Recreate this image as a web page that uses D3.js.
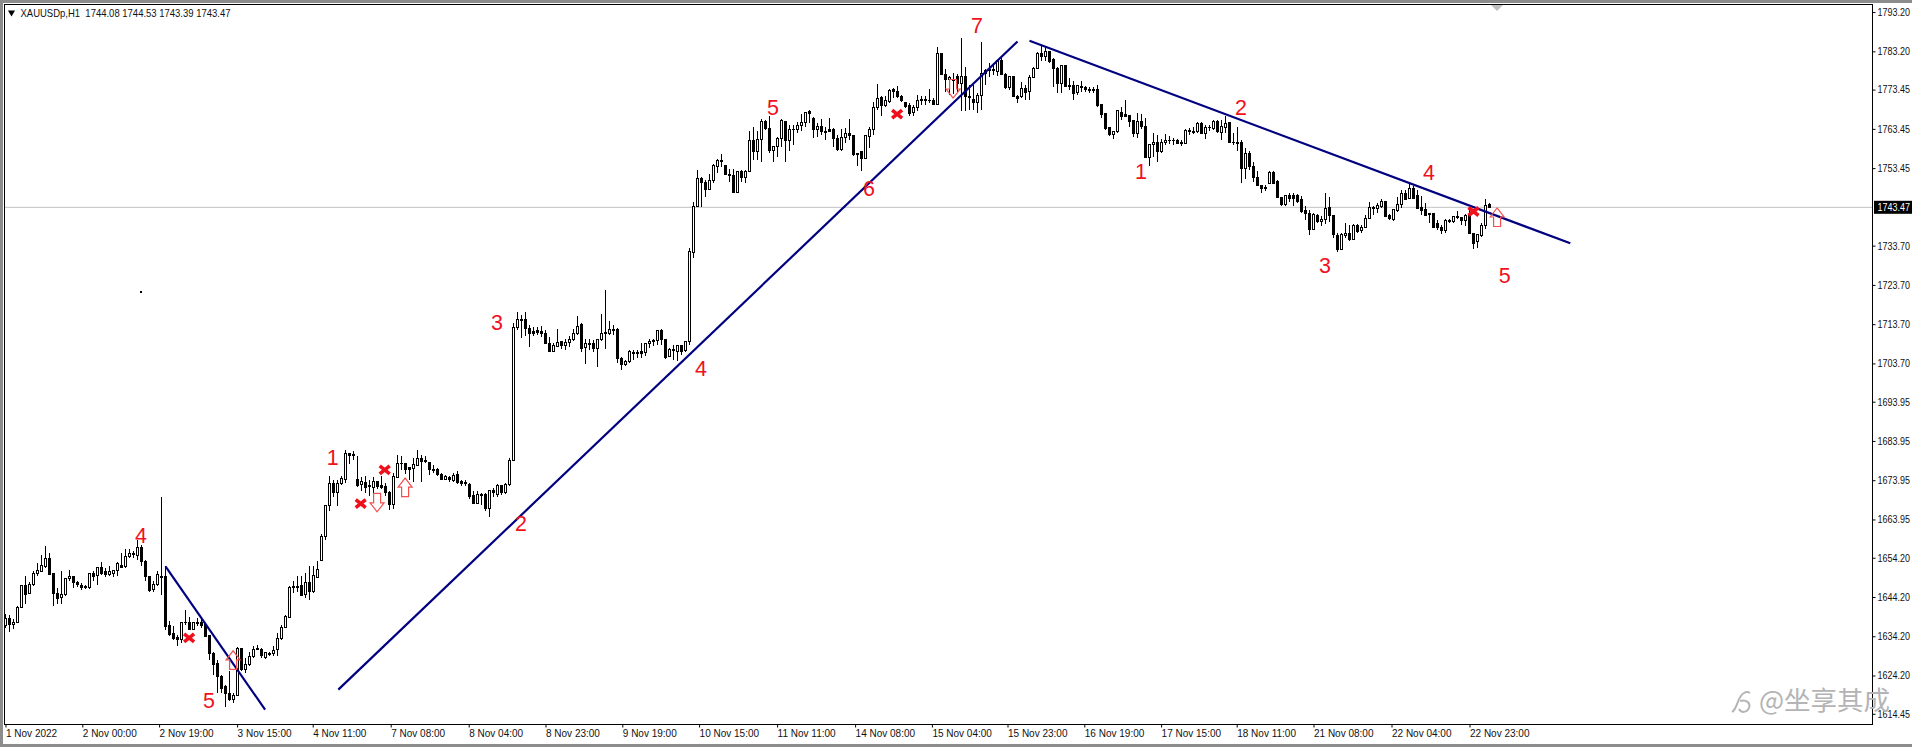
<!DOCTYPE html>
<html><head><meta charset="utf-8">
<script src="https://cdnjs.cloudflare.com/ajax/libs/d3/7.8.5/d3.min.js"></script>
<style>
html,body{margin:0;padding:0;background:#fff;overflow:hidden}
text{font-family:"Liberation Sans",Arial,sans-serif}
</style></head><body><svg id="c" width="1912" height="747"></svg>
<script>
const opens=[1636.9,1638.6,1637.1,1637.7,1641.6,1647.1,1645.2,1647.3,1650.1,1650.7,
1652.0,1653.9,1650.1,1645.2,1644.1,1644.8,1648.9,1649.5,1647.9,1647.2,
1646.6,1646.6,1650.3,1649.6,1651.8,1650.6,1650.0,1650.1,1651.0,1652.2,
1652.0,1654.4,1654.9,1654.7,1656.7,1653.3,1649.3,1646.1,1647.3,1649.2,
1649.5,1636.9,1635.0,1633.8,1633.3,1637.8,1637.7,1636.0,1637.4,1637.7,
1637.1,1634.3,1629.9,1627.2,1624.0,1621.3,1619.7,1618.2,1619.1,1631.0,
1625.7,1627.1,1629.1,1631.0,1630.8,1628.8,1629.9,1629.7,1630.8,1633.7,
1636.5,1639.0,1646.6,1646.7,1647.1,1644.8,1647.8,1645.6,1649.2,1653.5,
1659.6,1667.4,1673.0,1670.8,1673.0,1674.2,1680.7,1680.3,1674.1,1672.8,
1673.4,1672.4,1672.2,1673.5,1672.5,1672.4,1670.7,1667.7,1674.7,1678.3,
1678.1,1677.1,1677.0,1677.8,1679.6,1678.9,1678.5,1676.8,1676.6,1675.3,
1674.2,1674.6,1673.9,1675.3,1673.6,1673.1,1672.8,1670.1,1668.1,1670.0,
1670.2,1666.8,1671.3,1670.2,1672.5,1670.7,1672.8,1679.0,1712.9,1715.0,
1714.8,1712.7,1711.8,1712.0,1711.9,1711.4,1708.9,1706.8,1708.0,1709.2,
1708.3,1709.0,1709.9,1711.2,1713.5,1707.8,1708.7,1708.7,1707.6,1709.7,
1711.4,1711.2,1712.3,1712.4,1705.0,1703.4,1704.2,1706.5,1706.3,1706.7,
1706.5,1708.7,1709.4,1709.5,1712.1,1709.7,1705.5,1706.9,1706.7,1708.2,
1707.0,1709.3,1731.9,1743.7,1750.9,1749.8,1748.1,1750.3,1753.8,1755.5,
1754.0,1751.9,1751.6,1747.3,1752.6,1751.1,1752.6,1760.6,1757.8,1760.8,
1765.2,1763.6,1757.9,1758.9,1761.1,1765.4,1760.6,1763.2,1763.2,1764.4,
1765.1,1767.8,1766.1,1763.2,1764.0,1762.9,1763.2,1763.2,1761.1,1758.1,
1761.3,1762.2,1761.8,1757.2,1757.6,1755.9,1761.5,1763.4,1769.0,1771.5,
1769.3,1770.4,1773.4,1772.9,1771.8,1770.1,1769.3,1767.6,1769.0,1770.7,
1771.0,1770.8,1770.8,1769.7,1782.7,1777.4,1775.9,1776.1,1776.8,1774.9,
1776.8,1771.8,1771.0,1770.1,1772.0,1777.6,1778.2,1778.3,1778.0,1780.8,
1777.4,1774.0,1776.8,1771.8,1771.7,1773.8,1773.0,1776.6,1778.8,1782.7,
1781.9,1783.1,1781.0,1778.9,1774.9,1779.5,1774.5,1774.6,1772.7,1774.2,
1774.1,1773.5,1773.6,1773.4,1769.6,1767.4,1763.9,1762.0,1762.8,1767.6,
1767.0,1766.8,1765.6,1762.2,1765.3,1764.0,1756.2,1759.4,1760.0,1757.7,
1760.0,1760.5,1760.6,1760.6,1760.0,1759.8,1762.7,1762.9,1762.7,1764.7,
1762.3,1763.7,1763.6,1765.4,1762.6,1763.9,1765.1,1760.1,1760.1,1760.0,
1753.3,1757.2,1753.8,1751.1,1748.9,1748.2,1749.6,1752.3,1750.1,1745.9,
1744.3,1746.6,1746.6,1746.4,1745.4,1742.6,1741.8,1737.9,1741.5,1739.8,
1740.3,1743.3,1741.3,1736.3,1732.8,1736.2,1736.9,1735.2,1738.9,1737.6,
1738.4,1740.7,1743.2,1743.2,1743.7,1745.0,1741.5,1740.4,1742.6,1744.3,
1747.1,1745.7,1748.3,1746.4,1743.5,1742.8,1741.8,1741.8,1739.4,1738.4,
1737.6,1739.8,1739.8,1741.0,1740.9,1740.0,1741.5,1736.9,1734.8,1736.2,
1738.8,1744.08];
const closes=[1638.6,1637.1,1637.7,1641.6,1647.1,1644.8,1647.3,1650.3,1651.0,1652.2,
1653.9,1649.9,1645.2,1643.9,1644.9,1649.0,1649.5,1647.9,1647.3,1646.7,
1646.8,1650.1,1649.3,1651.8,1650.1,1650.0,1650.6,1651.0,1652.7,1651.7,
1654.4,1655.4,1655.2,1656.7,1653.3,1649.3,1645.9,1647.3,1649.9,1649.5,
1636.7,1634.6,1633.7,1633.3,1637.7,1637.6,1636.0,1637.6,1637.7,1636.9,
1634.2,1629.8,1627.0,1624.0,1621.0,1619.7,1618.0,1619.1,1631.2,1625.7,
1627.1,1629.1,1630.9,1630.8,1629.2,1630.1,1629.6,1630.6,1633.7,1636.5,
1639.3,1646.7,1646.9,1646.9,1644.5,1647.8,1645.6,1649.6,1651.3,1659.5,
1667.4,1673.0,1670.8,1673.0,1674.3,1680.7,1680.3,1680.6,1672.6,1673.5,
1672.2,1672.5,1673.5,1672.4,1672.2,1670.7,1667.7,1674.9,1678.3,1678.1,
1676.6,1676.8,1677.9,1679.6,1678.6,1678.6,1676.8,1676.4,1675.3,1674.1,
1674.9,1674.1,1675.2,1673.4,1673.2,1673.4,1669.8,1668.1,1670.2,1670.2,
1666.8,1671.3,1670.8,1672.5,1670.7,1672.8,1679.0,1712.9,1715.0,1714.7,
1712.7,1711.4,1711.3,1711.6,1711.3,1708.9,1706.7,1708.2,1709.1,1708.3,
1709.1,1709.9,1711.4,1713.1,1707.6,1708.7,1708.4,1707.4,1709.7,1711.4,
1711.6,1712.3,1712.0,1705.0,1703.4,1704.3,1706.7,1706.2,1706.5,1706.3,
1708.7,1709.3,1709.6,1712.1,1709.7,1705.3,1707.2,1707.2,1708.2,1706.7,
1709.2,1732.1,1743.7,1750.9,1749.8,1748.1,1750.2,1754.0,1755.5,1755.2,
1751.9,1751.6,1747.2,1752.6,1751.1,1752.7,1760.6,1757.7,1760.8,1765.2,
1763.6,1757.9,1758.9,1761.1,1765.5,1760.6,1763.4,1763.4,1764.4,1765.1,
1767.6,1767.4,1763.2,1764.0,1762.8,1762.6,1762.8,1761.0,1758.1,1761.3,
1762.2,1761.8,1756.9,1756.9,1755.9,1761.7,1763.4,1769.0,1771.2,1769.3,
1770.7,1773.2,1772.9,1771.7,1770.8,1769.1,1767.4,1769.0,1770.8,1771.0,
1770.7,1770.6,1769.7,1782.7,1777.4,1775.9,1776.6,1775.7,1775.1,1776.9,
1771.7,1771.5,1770.1,1772.0,1777.6,1778.3,1778.5,1778.5,1780.8,1777.4,
1774.1,1776.8,1771.7,1771.3,1773.8,1772.7,1776.6,1778.9,1782.7,1781.9,
1783.1,1780.6,1778.9,1775.1,1779.5,1774.2,1774.2,1772.5,1774.5,1773.9,
1773.5,1773.1,1773.2,1769.3,1767.0,1763.6,1761.9,1762.8,1768.1,1766.6,
1766.6,1765.3,1762.2,1765.3,1764.0,1756.2,1759.4,1760.1,1757.7,1760.0,
1760.6,1760.6,1760.4,1759.8,1759.8,1763.0,1763.0,1762.6,1764.7,1762.3,
1763.9,1763.9,1765.4,1762.7,1764.0,1764.9,1760.0,1759.9,1759.8,1753.3,
1757.2,1753.8,1751.1,1748.9,1748.2,1748.4,1752.3,1749.6,1746.0,1744.1,
1746.5,1745.7,1745.8,1744.9,1742.4,1742.0,1737.9,1741.6,1739.8,1740.3,
1743.2,1741.3,1736.5,1732.6,1736.5,1736.9,1735.2,1738.9,1737.4,1738.4,
1740.7,1743.5,1743.4,1744.0,1744.9,1741.1,1740.6,1742.8,1744.3,1746.9,
1745.5,1748.3,1745.8,1743.2,1742.7,1741.5,1741.6,1738.4,1738.2,1737.6,
1740.0,1740.0,1741.1,1740.8,1740.0,1741.5,1736.9,1734.2,1736.5,1738.8,
1744.0,1743.47];
const highs=[1639.9,1639.7,1638.6,1642.0,1647.3,1649.6,1647.9,1650.7,1652.9,1655.0,
1657.1,1655.4,1650.1,1646.5,1650.7,1649.0,1651.2,1649.6,1648.2,1647.8,
1647.3,1650.3,1650.7,1651.8,1653.1,1651.6,1652.2,1651.2,1653.0,1655.4,
1656.4,1656.4,1655.8,1658.8,1657.5,1653.5,1649.5,1648.2,1650.7,1669.6,
1652.0,1638.0,1636.7,1634.6,1637.7,1641.0,1639.1,1637.7,1638.8,1638.8,
1637.6,1634.6,1630.1,1628.1,1624.4,1621.9,1625.3,1619.7,1631.5,1631.2,
1628.7,1630.3,1631.6,1632.0,1631.2,1630.3,1630.3,1631.6,1635.0,1637.1,
1639.7,1646.9,1648.2,1649.5,1649.5,1650.3,1652.2,1652.0,1653.3,1660.3,
1667.7,1675.1,1673.9,1674.1,1674.9,1681.7,1681.0,1681.3,1680.2,1674.7,
1674.9,1674.1,1674.7,1673.6,1674.9,1673.2,1671.1,1675.9,1680.4,1680.0,
1678.3,1677.3,1679.6,1681.7,1680.4,1680.0,1678.7,1677.9,1677.0,1675.9,
1675.3,1674.9,1675.8,1676.4,1674.1,1673.9,1673.2,1671.1,1671.3,1670.7,
1670.8,1671.5,1671.9,1673.0,1672.8,1673.2,1679.6,1714.0,1716.8,1716.1,
1716.8,1713.5,1713.0,1713.0,1713.3,1712.3,1710.4,1708.9,1712.4,1709.5,
1709.9,1710.6,1712.4,1715.8,1714.0,1709.9,1709.9,1709.7,1709.9,1716.3,
1722.3,1714.4,1713.5,1712.7,1705.3,1704.6,1707.0,1707.0,1707.0,1708.9,
1708.9,1709.9,1709.9,1712.3,1712.4,1709.9,1707.6,1708.4,1708.2,1708.4,
1709.5,1733.1,1744.9,1753.0,1751.3,1750.3,1752.0,1754.5,1755.7,1757.1,
1754.3,1753.2,1753.2,1752.8,1753.0,1753.0,1763.0,1764.0,1763.0,1765.9,
1765.7,1766.6,1759.1,1761.5,1765.9,1765.5,1764.5,1764.5,1765.3,1767.3,
1767.8,1768.3,1766.4,1764.9,1765.9,1764.0,1766.2,1763.6,1761.9,1763.4,
1763.6,1765.9,1761.9,1757.4,1757.7,1761.9,1763.9,1770.4,1774.9,1771.7,
1771.8,1773.5,1773.8,1774.4,1772.1,1770.4,1770.0,1769.6,1772.1,1771.8,
1771.8,1773.5,1771.2,1784.2,1782.7,1778.6,1776.8,1777.8,1777.4,1786.5,
1779.1,1774.6,1774.6,1772.5,1785.7,1778.6,1780.2,1780.3,1781.0,1781.4,
1777.6,1776.9,1776.9,1772.1,1775.5,1774.6,1777.2,1779.1,1783.1,1784.8,
1784.4,1783.4,1781.4,1779.3,1779.7,1779.7,1776.3,1775.7,1774.6,1775.7,
1774.4,1774.2,1774.2,1774.6,1769.8,1767.4,1764.0,1763.0,1768.3,1769.0,
1770.8,1767.0,1765.7,1767.4,1767.3,1766.2,1759.6,1762.5,1761.9,1760.8,
1762.2,1761.7,1761.1,1760.8,1760.5,1763.4,1763.6,1763.9,1765.3,1765.1,
1764.5,1764.5,1765.7,1765.7,1765.7,1766.6,1765.3,1762.3,1764.0,1760.6,
1758.5,1757.9,1755.1,1752.6,1749.2,1749.2,1752.6,1752.6,1750.3,1746.2,
1746.6,1747.2,1747.1,1746.9,1746.4,1743.8,1742.8,1742.0,1741.8,1741.3,
1747.1,1746.2,1741.5,1736.9,1736.9,1739.4,1739.0,1739.2,1739.2,1739.0,
1741.5,1744.7,1743.7,1744.5,1745.5,1745.2,1741.8,1743.0,1746.0,1747.9,
1747.9,1749.6,1748.8,1747.9,1746.4,1744.5,1742.0,1741.8,1740.3,1739.0,
1740.4,1740.4,1741.3,1742.6,1741.0,1741.8,1743.2,1737.0,1736.7,1739.4,
1745.5,1744.53];
const lows=[1636.3,1635.4,1636.0,1637.6,1641.4,1642.5,1645.0,1646.9,1649.6,1650.5,
1651.6,1649.7,1641.8,1642.5,1642.5,1644.5,1648.2,1646.5,1646.7,1646.1,
1646.2,1646.2,1648.2,1647.3,1649.9,1649.3,1649.6,1649.3,1649.5,1651.6,
1651.6,1654.1,1654.1,1653.7,1652.2,1648.2,1645.6,1645.4,1646.9,1644.6,
1635.9,1634.3,1633.3,1631.6,1632.5,1637.1,1635.9,1635.7,1636.7,1636.3,
1634.0,1628.2,1624.4,1619.7,1619.7,1616.3,1617.6,1617.2,1618.9,1625.3,
1624.8,1626.7,1628.7,1630.6,1628.7,1628.4,1629.2,1629.1,1629.1,1633.3,
1636.3,1638.8,1645.2,1645.6,1644.4,1643.9,1643.5,1645.2,1649.0,1653.3,
1658.8,1666.0,1669.8,1667.4,1672.8,1673.2,1678.1,1679.2,1672.2,1671.1,
1670.7,1670.0,1670.7,1671.7,1671.7,1670.0,1666.4,1666.6,1674.5,1676.6,
1675.6,1674.1,1673.4,1677.6,1673.6,1678.3,1675.3,1675.8,1674.9,1673.9,
1673.9,1673.6,1673.6,1673.0,1672.4,1672.5,1669.1,1668.0,1668.0,1667.7,
1666.0,1664.6,1669.8,1669.8,1670.2,1670.5,1672.5,1678.9,1712.3,1710.1,
1710.6,1708.0,1710.6,1711.0,1710.4,1708.7,1706.7,1706.7,1707.8,1707.3,
1707.2,1708.0,1709.3,1711.0,1706.7,1703.6,1707.0,1706.5,1702.9,1709.5,
1707.3,1711.0,1711.0,1703.9,1701.9,1703.1,1703.8,1704.6,1705.0,1705.0,
1705.5,1707.6,1708.2,1708.4,1708.4,1704.8,1705.3,1704.6,1704.2,1705.9,
1706.5,1708.4,1730.6,1743.5,1743.5,1746.0,1747.9,1749.6,1752.1,1753.7,
1751.7,1750.0,1747.1,1747.2,1750.0,1749.6,1752.6,1755.4,1755.4,1755.1,
1763.2,1757.2,1754.9,1756.4,1758.9,1755.1,1757.9,1759.4,1762.3,1762.8,
1764.0,1765.0,1761.1,1761.5,1761.9,1760.5,1762.8,1758.9,1757.7,1757.9,
1759.9,1760.6,1756.6,1754.0,1752.8,1755.7,1758.5,1761.9,1768.3,1766.6,
1769.1,1770.0,1771.2,1771.2,1770.4,1768.7,1766.7,1766.6,1767.9,1769.6,
1769.6,1770.1,1769.6,1769.6,1777.2,1772.9,1772.1,1772.4,1772.9,1768.1,
1767.9,1768.3,1768.3,1767.6,1768.3,1774.6,1776.6,1777.2,1776.9,1777.2,
1773.5,1773.4,1771.5,1770.0,1771.2,1770.8,1770.8,1776.3,1778.6,1780.8,
1780.8,1780.3,1774.2,1772.7,1772.7,1774.2,1773.4,1770.7,1772.1,1772.9,
1772.9,1772.7,1772.7,1769.0,1766.2,1763.2,1761.7,1760.8,1762.5,1765.7,
1766.4,1763.9,1761.5,1761.1,1763.4,1756.2,1754.0,1756.4,1755.1,1757.2,
1759.4,1759.6,1759.4,1759.6,1759.1,1759.6,1761.9,1762.2,1762.5,1762.2,
1760.8,1762.8,1763.2,1762.3,1760.6,1762.3,1759.8,1759.4,1757.9,1749.6,
1750.6,1753.0,1749.8,1748.8,1747.2,1747.5,1749.4,1749.4,1745.8,1743.7,
1743.8,1744.9,1743.8,1744.5,1742.1,1740.3,1736.5,1737.6,1739.4,1738.7,
1739.3,1739.8,1735.6,1732.2,1732.6,1735.6,1735.0,1735.2,1737.0,1737.0,
1738.2,1740.4,1741.5,1742.0,1743.2,1741.0,1740.3,1740.1,1742.4,1743.2,
1745.4,1745.5,1745.5,1743.0,1741.5,1741.3,1739.4,1738.2,1737.7,1736.7,
1737.0,1739.4,1739.4,1740.4,1739.0,1738.7,1736.9,1732.8,1733.0,1735.9,
1737.9,1743.39];

const priceTicks=[1793.20,1783.20,1773.45,1763.45,1753.45,1733.70,1723.70,1713.70,1703.70,1693.95,1683.95,1673.95,1663.95,1654.20,1644.20,1634.20,1624.20,1614.45];
const timeLabels=["1 Nov 2022","2 Nov 00:00","2 Nov 19:00","3 Nov 15:00","4 Nov 11:00","7 Nov 08:00","8 Nov 04:00","8 Nov 23:00","9 Nov 19:00","10 Nov 15:00","11 Nov 11:00","14 Nov 08:00","15 Nov 04:00","15 Nov 23:00","16 Nov 19:00","17 Nov 15:00","18 Nov 11:00","21 Nov 08:00","22 Nov 04:00","22 Nov 23:00"];
const timeBars=[0,19.2,38.4,57.9,76.8,96.3,115.8,135,154.2,173.4,192.9,212.4,231.6,250.5,269.7,288.9,307.8,327,346.5,366];
const lastPrice=1743.47;
const titleText="XAUUSDp,H1  1744.08 1744.53 1743.39 1743.47";
const trendBars=[[40,64.9],[83.2,253],[256,391.2]];
const trendPrices=[[1652.0,1615.5],[1620.6,1785.7],[1785.9,1734.3]];
const waveTexts=["4","5","1","2","3","4","5","6","7","1","2","3","4","5"];
const waveBars=[33.9,50.9,81.8,128.9,122.9,173.9,191.9,215.9,242.9,283.9,308.9,329.9,355.9,374.8];
const wavePrices=[1659.8,1618.0,1679.7,1662.9,1714.1,1702.5,1768.9,1748.3,1789.8,1752.6,1769.0,1728.8,1752.3,1726.1];
const crossBars=[45.9,88.8,94.8,222.9,367];
const crossPrices=[1633.8,1668.0,1676.6,1767.2,1742.4];
const upBars=[56.9,99.9,372.9];
const upPrices=[1628.2,1672.2,1741.0];
const downBars=[92.9,236.9];
const downPrices=[1668.2,1773.6];

const W=1912,H=747,axisX=1872.5,plotTop=4.5,plotBottom=724.5;
const svg=d3.select("#c");
const x=d3.scaleLinear().domain([0,371]).range([5.5,1489.5]);
const y=d3.scaleLinear().domain([1743.47,1644.20]).range([207.3,597]);

// window frame
svg.append("rect").attr("x",0).attr("y",0).attr("width",W).attr("height",H).attr("fill","#fff");
svg.append("rect").attr("x",0).attr("y",0).attr("width",W).attr("height",3).attr("fill","#8c8c8c");
svg.append("rect").attr("x",0).attr("y",0).attr("width",3).attr("height",H).attr("fill","#8c8c8c");
svg.append("rect").attr("x",0).attr("y",H-3).attr("width",W).attr("height",3).attr("fill","#8c8c8c");

// current price line
svg.append("line").attr("x1",4).attr("x2",axisX).attr("y1",y(lastPrice)).attr("y2",y(lastPrice)).attr("stroke","#c0c0c0").attr("stroke-width",1);

// candles
const bars=d3.range(opens.length).map(i=>({i,o:opens[i],h:highs[i],l:lows[i],c:closes[i]}));
const g=svg.append("g");
g.selectAll("line.w").data(bars).join("line").attr("class","w")
 .attr("x1",d=>x(d.i)).attr("x2",d=>x(d.i)).attr("y1",d=>y(d.h)).attr("y2",d=>y(d.l))
 .attr("stroke","#000").attr("stroke-width",1).attr("shape-rendering","crispEdges");
g.selectAll("rect").data(bars).join("rect")
 .attr("x",d=>x(d.i)-1).attr("width",2)
 .attr("y",d=>y(Math.max(d.o,d.c))).attr("height",d=>Math.max(0.5,Math.abs(y(d.o)-y(d.c))))
 .attr("fill",d=>d.c>=d.o?"#fff":"#000").attr("stroke","#000").attr("stroke-width",1)
 .attr("shape-rendering","crispEdges");

// trend lines
trendBars.forEach((b,k)=>svg.append("line")
 .attr("x1",x(b[0])).attr("x2",x(b[1])).attr("y1",y(trendPrices[k][0])).attr("y2",y(trendPrices[k][1]))
 .attr("stroke","#000080").attr("stroke-width",2.2));

// wave counts
svg.selectAll("text.wave").data(waveTexts).join("text").attr("class","wave")
 .attr("x",(d,i)=>x(waveBars[i])).attr("y",(d,i)=>y(wavePrices[i]))
 .attr("text-anchor","middle").attr("dy","0.36em")
 .attr("font-size",21.5).attr("fill","#f01020").text(d=>d);

// crosses
const crossPath="M-5,-4L5,4M-5,4L5,-4";
svg.selectAll("path.cr").data(crossBars).join("path").attr("class","cr")
 .attr("transform",(d,i)=>`translate(${x(d)},${y(crossPrices[i])})`)
 .attr("d",crossPath).attr("stroke","#f0101c").attr("stroke-width",3.6).attr("fill","none");

// arrows
const arrowUp="M-7,0L0,-9L7,0L3.5,0L3.5,9.5L-3.5,9.5L-3.5,0Z";
const arrowDown="M-7,0L0,9L7,0L3.5,0L3.5,-9.5L-3.5,-9.5L-3.5,0Z";
upBars.forEach((b,i)=>svg.append("path").attr("d",arrowUp)
 .attr("transform",`translate(${x(b)},${y(upPrices[i])})`)
 .attr("fill","none").attr("stroke","#f2504f").attr("stroke-width",1.2));
downBars.forEach((b,i)=>svg.append("path").attr("d",arrowDown)
 .attr("transform",`translate(${x(b)},${y(downPrices[i])})`)
 .attr("fill","none").attr("stroke","#f2504f").attr("stroke-width",1.2));

// speck
svg.append("rect").attr("x",140).attr("y",291).attr("width",2).attr("height",2).attr("fill","#000");

// frame lines
svg.append("rect").attr("x",4.5).attr("y",plotTop).attr("width",axisX-4.5).attr("height",plotBottom-plotTop)
 .attr("fill","none").attr("stroke","#000").attr("stroke-width",1);

// axes
const yAxis=d3.axisRight(y).tickValues(priceTicks).tickFormat(d3.format(".2f")).tickSize(3).tickPadding(2);
const ya=svg.append("g").attr("transform",`translate(${axisX},0)`).call(yAxis);
ya.select(".domain").remove();
ya.selectAll("line").attr("stroke","#000");
ya.selectAll("text").attr("font-size",10.5).attr("fill","#111").attr("font-family","Liberation Sans")
  .attr("x",0).attr("transform","translate(5,0) scale(0.855,1)");

const xAxis=d3.axisBottom(x).tickValues(timeBars).tickFormat((d,i)=>timeLabels[i]).tickSize(3).tickPadding(2);
const xa=svg.append("g").attr("transform",`translate(0,${plotBottom})`).call(xAxis);
xa.select(".domain").remove();
xa.selectAll("line").attr("stroke","#000");
xa.selectAll("text").attr("text-anchor","start").attr("font-size",10).attr("fill","#111").attr("font-family","Liberation Sans");

// last price tag
svg.append("rect").attr("x",axisX+1.5).attr("y",y(lastPrice)-6.5).attr("width",W-axisX-1.5).attr("height",13).attr("fill","#000");
svg.append("text").attr("transform",`translate(${axisX+5},${y(lastPrice)}) scale(0.855,1)`).attr("dy","0.36em").attr("font-size",10.5).attr("fill","#fff")
  .text(d3.format(".2f")(lastPrice));

// title
svg.append("path").attr("d",d3.symbol(d3.symbolTriangle,22)()).attr("transform",`translate(11.5,12.5) rotate(180)`).attr("fill","#000");
svg.append("text").attr("transform","translate(20.5,13) scale(0.905,1)").attr("dy","0.36em").attr("font-size",10.5).attr("fill","#111")
  .style("white-space","pre").text(titleText);

// top marker
svg.append("path").attr("d","M1491,5L1503,5L1497,11Z").attr("fill","#c0c0c0");

// watermark
const wm=svg.append("g").attr("fill","#b4b4b4");
wm.append("text").attr("x",1759).attr("y",700).attr("dy","0.36em").attr("font-size",26.5).style("font-family","'Noto Sans CJK SC'").text("@坐享其成");
wm.append("path").attr("d","M1732,712C1738,708 1737,697 1744,693C1747,691 1750,693 1750,693M1740,701C1746,699 1751,703 1749,708C1747,713 1741,713 1739,709")
 .attr("fill","none").attr("stroke","#b4b4b4").attr("stroke-width",2);
</script></body></html>
